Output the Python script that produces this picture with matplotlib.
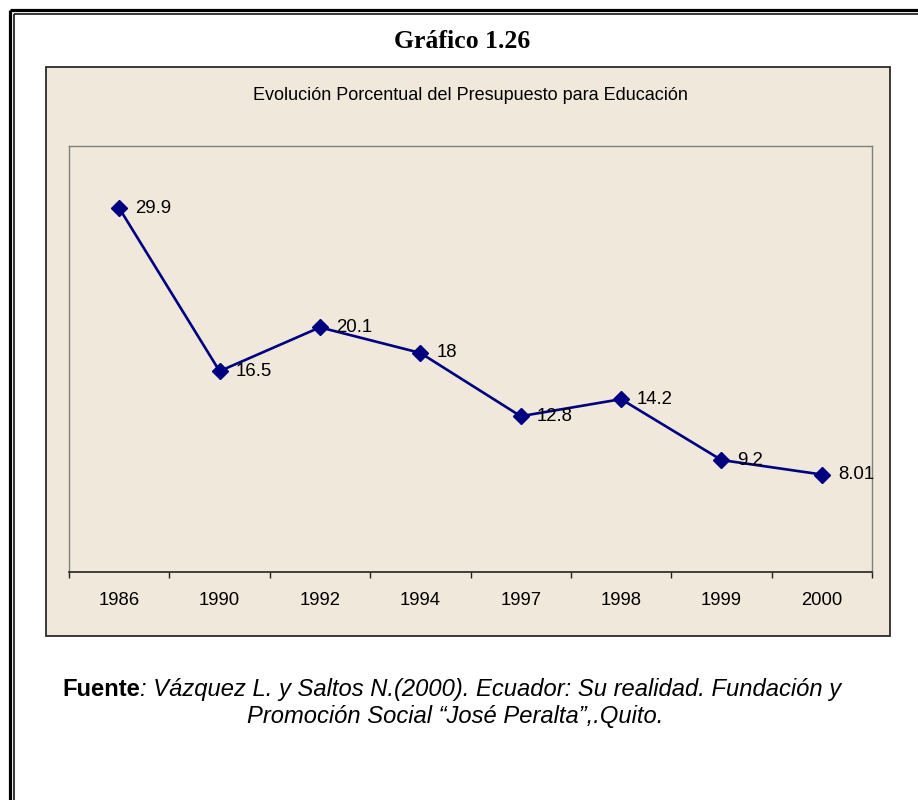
import matplotlib
matplotlib.use("Agg")
import matplotlib.pyplot as plt
from matplotlib.patches import Rectangle
from matplotlib.lines import Line2D

years = ["1986", "1990", "1992", "1994", "1997", "1998", "1999", "2000"]
values = [29.9, 16.5, 20.1, 18.0, 12.8, 14.2, 9.2, 8.01]
value_labels = ["29.9", "16.5", "20.1", "18", "12.8", "14.2", "9.2", "8.01"]

W, H = 918, 800
fig = plt.figure(figsize=(W / 100, H / 100), dpi=100)
fig.patch.set_facecolor("white")

def fx(px):
    return px / W

def fy(py):
    return 1 - py / H

# outer double border (left and top visible)
fig.add_artist(Line2D([fx(9.8), fx(9.8)], [fy(9.8), 0], transform=fig.transFigure, color="black", lw=2.3, solid_capstyle="butt"))
fig.add_artist(Line2D([fx(9.8), 1], [fy(9.8), fy(9.8)], transform=fig.transFigure, color="black", lw=2.3, solid_capstyle="butt"))
fig.add_artist(Line2D([fx(14.3), fx(14.3)], [fy(14.3), 0], transform=fig.transFigure, color="black", lw=1.1, solid_capstyle="butt"))
fig.add_artist(Line2D([fx(14.3), 1], [fy(14.3), fy(14.3)], transform=fig.transFigure, color="black", lw=1.1, solid_capstyle="butt"))

beige = "#F0E8DA"
# chart area box
fig.add_artist(Rectangle((fx(46), fy(636)), fx(890) - fx(46), fy(67) - fy(636),
                         transform=fig.transFigure, facecolor=beige, edgecolor="#2a2a2a", lw=1.3, zorder=0))

fig.text(0.503, fy(41), "Gráfico 1.26", ha="center", va="center",
         fontsize=18.5, fontweight="bold", family="Liberation Serif")
fig.text(fx(470), fy(95), "Evolución Porcentual del Presupuesto para Educación",
         ha="center", va="center", fontsize=13.0, family="Liberation Sans")

ax = fig.add_axes([fx(69), fy(572), fx(872) - fx(69), fy(146) - fy(572)])
ax.set_facecolor(beige)
x = list(range(len(years)))
ax.plot(x, values, color="#000080", lw=1.9, marker="D", markersize=8.2,
        markerfacecolor="#000080", markeredgecolor="#000080", zorder=3)
for xi, v, lab in zip(x, values, value_labels):
    ax.annotate(lab, (xi, v), xytext=(11.5, 0), textcoords="offset points",
                ha="left", va="center", fontsize=13.4, family="Liberation Sans", zorder=4)

ax.set_xlim(-0.5, len(years) - 0.5)
ax.set_ylim(0, 35)
ax.set_yticks([])
ax.set_xticks([i - 0.5 for i in range(len(years) + 1)])
ax.set_xticklabels([])
ax.set_xticks(x, minor=True)
ax.set_xticklabels(years, minor=True, fontsize=13.3, family="Liberation Sans")
ax.tick_params(axis="x", which="major", direction="out", length=4.5, width=1, color="#222222")
ax.tick_params(axis="x", which="minor", length=0, pad=14.5)
for s in ["top", "left", "right"]:
    ax.spines[s].set_color("#7f7f7f")
    ax.spines[s].set_linewidth(1.0)
ax.spines["bottom"].set_color("#222222")
ax.spines["bottom"].set_linewidth(1.2)

# source text
fs = 17.1
fig.text(fx(140), fy(696), "Fuente", ha="right", va="baseline", fontsize=fs,
         fontweight="bold", family="Liberation Sans")
fig.text(fx(140), fy(696), ": Vázquez L. y Saltos N.(2000). Ecuador: Su realidad. Fundación y",
         ha="left", va="baseline", fontsize=fs, style="italic", family="Liberation Sans")
fig.text(fx(455), fy(723), "Promoción Social “José Peralta”,.Quito.",
         ha="center", va="baseline", fontsize=fs, style="italic", family="Liberation Sans")

fig.savefig("out.png", dpi=100, facecolor="white")
